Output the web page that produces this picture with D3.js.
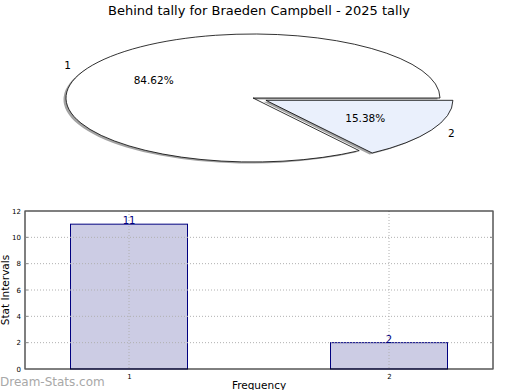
<!DOCTYPE html>
<html><head><meta charset="utf-8">
<script src="https://cdn.jsdelivr.net/npm/d3@7"></script>
<style>body{margin:0;background:#fff}svg{display:block;font-family:"DejaVu Sans",sans-serif}</style>
</head><body>
<script>
const title = "Behind tally for Braeden Campbell - 2025 tally";
const categories = ["1", "2"];
const values = [11, 2];
const sliceColors = ["#ffffff", "#eaf0fc"];
const yTicks = [0, 2, 4, 6, 8, 10, 12];
const xLabel = "Frequency";
const yLabel = "Stat Intervals";
const watermark = "Dream-Stats.com";

const W = 520, H = 390;
const svg = d3.select("body").append("svg").attr("width", W).attr("height", H);

svg.append("text").attr("x", 259).attr("y", 15).attr("text-anchor", "middle")
  .attr("font-size", 13).text(title);

// ---- Pie ----
const cx = 253, cy = 98, rx = 187, ry = 64, R = 100, explode = [0, 0.078];
const total = d3.sum(values);
const start = Math.PI / 2 + 2 * Math.PI * values[1] / total;
const pie = d3.pie().sort(null).startAngle(start).endAngle(start + 2 * Math.PI);
const arcs = pie(values);
const arc = d3.arc().innerRadius(0).outerRadius(R);
const pieG = svg.append("g").attr("transform", `translate(${cx},${cy})`);

function offset(d, i, k) {
  const m = (d.startAngle + d.endAngle) / 2;
  return [Math.sin(m) * rx * k, -Math.cos(m) * ry * k];
}
// shadows
arcs.forEach((d, i) => {
  const [ox, oy] = offset(d, i, explode[i]);
  pieG.append("path").attr("d", arc(d))
    .attr("transform", `translate(${ox - 2.5},${oy + 1.5}) scale(${rx / R},${ry / R})`)
    .attr("fill", "#8c8c8c").attr("fill-opacity", 0.8);
});
arcs.forEach((d, i) => {
  const [ox, oy] = offset(d, i, explode[i]);
  pieG.append("path").attr("d", arc(d))
    .attr("transform", `translate(${ox},${oy}) scale(${rx / R},${ry / R})`)
    .attr("fill", sliceColors[i]).attr("stroke", "#000").attr("stroke-width", 0.8)
    .attr("vector-effect", "non-scaling-stroke").attr("stroke-linejoin", "round");
});
arcs.forEach((d, i) => {
  const [lx, ly] = offset(d, i, 1.1 + explode[i]);
  pieG.append("text").attr("x", lx).attr("y", ly).attr("dy", "0.35em")
    .attr("text-anchor", lx < 0 ? "end" : "start").attr("font-size", 10.5).text(categories[i]);
  const [px, py] = offset(d, i, 0.6 + explode[i]);
  pieG.append("text").attr("x", px).attr("y", py).attr("dy", "0.35em")
    .attr("text-anchor", "middle").attr("font-size", 10.5)
    .text((100 * values[i] / total).toFixed(2) + "%");
});

// ---- Bars ----
const L = 25, Rt = 493, T = 211, B = 369;
const x = d3.scaleLinear().domain([0.6, 2.4]).range([L, Rt]);
const y = d3.scaleLinear().domain([0, 12]).range([B, T]);
const bw = x(1.225) - x(0.775);
const g = svg.append("g");

g.selectAll("rect.bar").data(values).join("rect").attr("class", "bar")
  .attr("x", (d, i) => x(i + 1) - bw / 2).attr("width", bw)
  .attr("y", d => y(d)).attr("height", d => y(0) - y(d))
  .attr("fill", "#ccccE4").attr("stroke", "#000080").attr("stroke-width", 1);

// grid
g.selectAll("line.hg").data(yTicks.slice(1, -1)).join("line")
  .attr("x1", L).attr("x2", Rt).attr("y1", d => y(d)).attr("y2", d => y(d))
  .attr("stroke", "#b0b0b0").attr("stroke-dasharray", "1,2");
g.selectAll("line.vg").data(categories).join("line")
  .attr("x1", (d, i) => x(i + 1)).attr("x2", (d, i) => x(i + 1)).attr("y1", T).attr("y2", B)
  .attr("stroke", "#b0b0b0").attr("stroke-dasharray", "1,2");

// frame
g.append("rect").attr("x", L).attr("y", T).attr("width", Rt - L).attr("height", B - T)
  .attr("fill", "none").attr("stroke", "#000").attr("stroke-width", 1);

// ticks
const yAxis = d3.axisLeft(y).tickValues(yTicks).tickSize(0).tickPadding(4);
const ya = svg.append("g").attr("transform", `translate(${L},0)`).call(yAxis);
ya.select(".domain").remove();
ya.selectAll("text").attr("font-size", 7).attr("font-family", "DejaVu Sans");
g.selectAll("line.yt").data(yTicks).join("line")
  .attr("x1", L).attr("x2", L + 3).attr("y1", d => y(d)).attr("y2", d => y(d))
  .attr("stroke", "#888");
g.selectAll("line.yt2").data(yTicks).join("line")
  .attr("x1", Rt - 3).attr("x2", Rt).attr("y1", d => y(d)).attr("y2", d => y(d))
  .attr("stroke", "#888");

const xAxis = d3.axisBottom(x).tickValues([1, 2]).tickFormat((d, i) => categories[i]).tickSize(0).tickPadding(5);
const xa = svg.append("g").attr("transform", `translate(0,${B})`).call(xAxis);
xa.select(".domain").remove();
xa.selectAll("text").attr("font-size", 7).attr("font-family", "DejaVu Sans");

// bar value labels
g.selectAll("text.val").data(values).join("text")
  .attr("x", (d, i) => x(i + 1)).attr("y", d => y(d)).attr("text-anchor", "middle")
  .attr("fill", "#000080").attr("font-size", 10).text(d => d);

svg.append("text").attr("transform", `translate(9,${(T + B) / 2}) rotate(-90)`)
  .attr("text-anchor", "middle").attr("font-size", 10.5).text(yLabel);
svg.append("text").attr("x", 259).attr("y", 389).attr("text-anchor", "middle")
  .attr("font-size", 10.5).text(xLabel);

svg.append("text").attr("x", 0).attr("y", 386).attr("font-size", 12)
  .attr("fill", "#a8a8a8").text(watermark);
</script>
</body></html>
